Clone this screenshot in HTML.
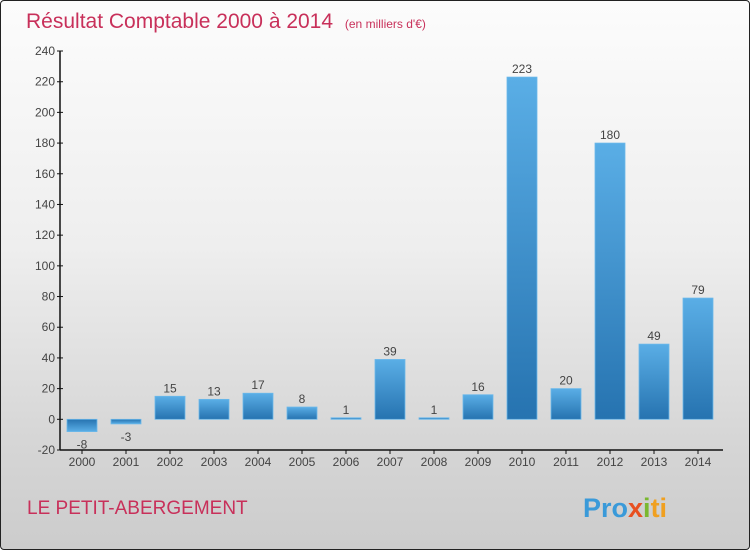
<!DOCTYPE html>
<html><head><meta charset="utf-8"><style>
html,body{margin:0;padding:0;}
body{width:750px;height:550px;overflow:hidden;font-family:"Liberation Sans",sans-serif;}
#wrap{position:relative;width:748px;height:548px;border:1px solid #222;border-radius:4px;background:linear-gradient(#fcfcfc 0%,#eeeeee 45%,#d6d6d6 80%,#cccccc 100%);overflow:hidden;}
</style></head><body>
<div id="wrap">
<svg id="chart" width="748" height="548">
<defs>
<linearGradient id="gpos" x1="0" y1="0" x2="0" y2="1"><stop offset="0" stop-color="#5aaee6"/><stop offset="1" stop-color="#2673b0"/></linearGradient>
<linearGradient id="gneg" x1="0" y1="0" x2="0" y2="1"><stop offset="0" stop-color="#2673b0"/><stop offset="1" stop-color="#5aaee6"/></linearGradient>
</defs>
<text x="25" y="27" font-size="21" fill="#c8305a">Résultat Comptable 2000 à 2014 <tspan font-size="12" dx="6">(en milliers d'€)</tspan></text>
<g id="plot"></g>
<text x="26" y="513" font-size="19" fill="#c8305a">LE PETIT-ABERGEMENT</text>
<text x="582" y="516" font-size="27" font-weight="bold" fill="#3a9ad9">Pro<tspan fill="#e85020">x</tspan><tspan fill="#7ab830">i</tspan><tspan fill="#f0a020">ti</tspan></text>
</svg>
</div>
<script>
const categories=["2000","2001","2002","2003","2004","2005","2006","2007","2008","2009","2010","2011","2012","2013","2014"];
const values=[-8,-3,15,13,17,8,1,39,1,16,223,20,180,49,79];
const yTicks=[-20,0,20,40,60,80,100,120,140,160,180,200,220,240];
const ns="http://www.w3.org/2000/svg";
const g=document.getElementById('plot');
const y0=449,yTop=50,vMin=-20,vMax=240;
function y(v){return y0-(v-vMin)*(y0-yTop)/(vMax-vMin);}
function x(i){return 81+i*44;}
function mk(t,a){const e=document.createElementNS(ns,t);for(const k in a)e.setAttribute(k,a[k]);g.appendChild(e);return e;}
let ax=mk('line',{x1:59,y1:yTop,x2:59,y2:y0,stroke:'#111','stroke-width':1.5});


let bx=mk('line',{x1:59,y1:y0,x2:722,y2:y0,stroke:'#111','stroke-width':1.5});


yTicks.forEach(t=>{
 const l=mk('line',{x1:56,y1:y(t),x2:62,y2:y(t),stroke:'#111'});
 
 
 const tx=mk('text',{x:54,y:y(t)+4,'font-size':12,'text-anchor':'end',fill:'#444'});
 tx.textContent=t;
 
 
});
categories.forEach((c,i)=>{
 const v=values[i],cx=x(i);
 const top=Math.min(y(v),y(0)),h=Math.max(Math.abs(y(v)-y(0)),1.5);
 const r=mk('rect',{x:cx-15,y:top,width:30,height:h,fill:v<0?'url(#gneg)':'url(#gpos)',stroke:'#6bb8ea','stroke-width':0.8});
 
 
 const lb=mk('text',{x:cx,y:v<0?y(v)+17:y(v)-4,'font-size':12,'text-anchor':'middle',fill:'#444'});
 lb.textContent=v;
 
 
 const tk=mk('line',{x1:cx,y1:y0,x2:cx,y2:y0+4,stroke:'#111'});
 
 
 const xl=mk('text',{x:cx,y:y0+16,'font-size':12,'text-anchor':'middle',fill:'#444'});
 xl.textContent=c;
 
 
});
</script>
</body></html>
